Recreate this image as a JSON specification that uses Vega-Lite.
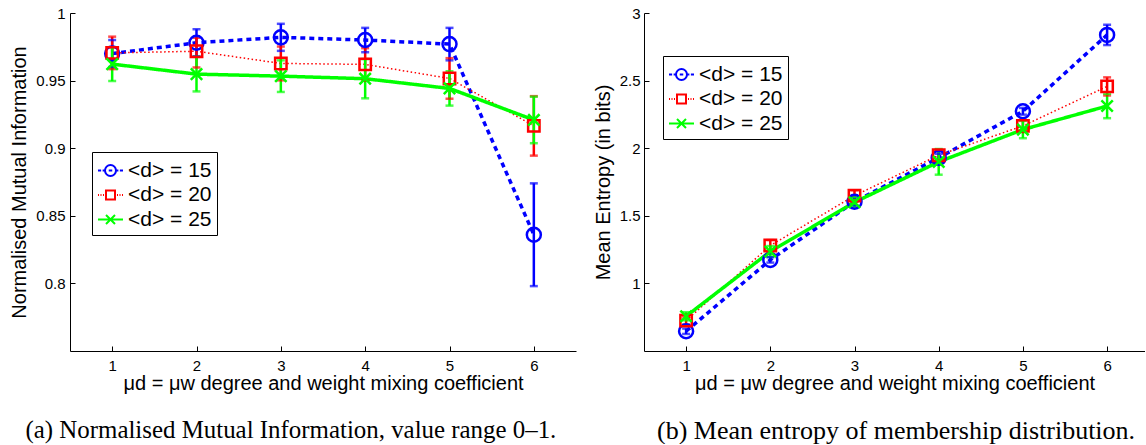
{
  "$schema": "https://vega.github.io/schema/vega-lite/v6.json",
  "background": "white",
  "padding": {"left": 9, "top": 6, "right": 0, "bottom": 0},
  "spacing": 17,
  "resolve": {"scale": {"color": "independent"}, "legend": {"color": "independent"}},
  "config": {
    "font": "Liberation Sans",
    "view": {"stroke": null},
    "axis": {
      "grid": false,
      "domainColor": "#000000",
      "domainWidth": 1,
      "tickColor": "#000000",
      "tickWidth": 1,
      "tickSize": -5,
      "labelColor": "#000000",
      "labelFont": "Liberation Sans",
      "labelFontSize": 15,
      "titleColor": "#000000",
      "titleFont": "Liberation Sans",
      "titleFontSize": 20,
      "titleFontWeight": "normal"
    },
    "legend": {
      "labelFont": "Liberation Sans",
      "labelFontSize": 21,
      "labelColor": "#000000"
    }
  },
  "datasets": {
    "a": [
      {"mu": 1, "d": "15", "v": 0.970, "lo": 0.960, "hi": 0.980},
      {"mu": 2, "d": "15", "v": 0.978, "lo": 0.968, "hi": 0.988},
      {"mu": 3, "d": "15", "v": 0.982, "lo": 0.972, "hi": 0.992},
      {"mu": 4, "d": "15", "v": 0.980, "lo": 0.971, "hi": 0.989},
      {"mu": 5, "d": "15", "v": 0.977, "lo": 0.965, "hi": 0.989},
      {"mu": 6, "d": "15", "v": 0.836, "lo": 0.798, "hi": 0.874},
      {"mu": 1, "d": "20", "v": 0.9705, "lo": 0.9585, "hi": 0.9825},
      {"mu": 2, "d": "20", "v": 0.9717, "lo": 0.9597, "hi": 0.9817},
      {"mu": 3, "d": "20", "v": 0.9627, "lo": 0.9502, "hi": 0.9752},
      {"mu": 4, "d": "20", "v": 0.962, "lo": 0.950, "hi": 0.974},
      {"mu": 5, "d": "20", "v": 0.9516, "lo": 0.9366, "hi": 0.9666},
      {"mu": 6, "d": "20", "v": 0.9165, "lo": 0.8945, "hi": 0.9385},
      {"mu": 1, "d": "25", "v": 0.9622, "lo": 0.9497, "hi": 0.9747},
      {"mu": 2, "d": "25", "v": 0.9548, "lo": 0.942, "hi": 0.9676},
      {"mu": 3, "d": "25", "v": 0.9533, "lo": 0.9416, "hi": 0.965},
      {"mu": 4, "d": "25", "v": 0.9514, "lo": 0.9369, "hi": 0.9659},
      {"mu": 5, "d": "25", "v": 0.9442, "lo": 0.9315, "hi": 0.9569},
      {"mu": 6, "d": "25", "v": 0.9209, "lo": 0.9037, "hi": 0.9381}
    ],
    "b": [
      {"mu": 1, "d": "15", "v": 0.646, "lo": 0.626, "hi": 0.666},
      {"mu": 2, "d": "15", "v": 1.174, "lo": 1.154, "hi": 1.194},
      {"mu": 3, "d": "15", "v": 1.604, "lo": 1.574, "hi": 1.634},
      {"mu": 4, "d": "15", "v": 1.929, "lo": 1.899, "hi": 1.959},
      {"mu": 5, "d": "15", "v": 2.273, "lo": 2.248, "hi": 2.298},
      {"mu": 6, "d": "15", "v": 2.838, "lo": 2.763, "hi": 2.913},
      {"mu": 1, "d": "20", "v": 0.725, "lo": 0.695, "hi": 0.755},
      {"mu": 2, "d": "20", "v": 1.28, "lo": 1.24, "hi": 1.32},
      {"mu": 3, "d": "20", "v": 1.649, "lo": 1.609, "hi": 1.689},
      {"mu": 4, "d": "20", "v": 1.948, "lo": 1.908, "hi": 1.988},
      {"mu": 5, "d": "20", "v": 2.165, "lo": 2.12, "hi": 2.21},
      {"mu": 6, "d": "20", "v": 2.457, "lo": 2.39, "hi": 2.524},
      {"mu": 1, "d": "25", "v": 0.757, "lo": 0.727, "hi": 0.787},
      {"mu": 2, "d": "25", "v": 1.236, "lo": 1.196, "hi": 1.276},
      {"mu": 3, "d": "25", "v": 1.60, "lo": 1.56, "hi": 1.64},
      {"mu": 4, "d": "25", "v": 1.899, "lo": 1.804, "hi": 1.994},
      {"mu": 5, "d": "25", "v": 2.138, "lo": 2.074, "hi": 2.202},
      {"mu": 6, "d": "25", "v": 2.312, "lo": 2.222, "hi": 2.402}
    ]
  },
  "hconcat": [
    {
      "width": 506,
      "height": 338,
      "data": {"name": "a"},
      "title": {"text": "(a)  Normalised Mutual Information, value range 0–1.", "orient": "bottom", "anchor": "middle", "frame": "bounds", "font": "Liberation Serif", "fontSize": 24.9, "fontWeight": "normal", "color": "#000000", "offset": 25, "dx": -2},
      "encoding": {
        "x": {"field": "mu", "type": "quantitative", "scale": {"domain": [0.5, 6.5], "nice": false, "zero": false},
          "axis": {"values": [1, 2, 3, 4, 5, 6], "title": "μd = μw degree and weight mixing coefficient", "labelPadding": 12, "titleBaseline": "alphabetic", "titleY": 38}}
      },
      "layer": [
        {
          "mark": {"type": "line"},
          "encoding": {
            "y": {"field": "v", "type": "quantitative", "scale": {"domain": [0.75, 1], "nice": false, "zero": false},
              "axis": {"values": [0.8, 0.85, 0.9, 0.95, 1], "format": "~g", "title": "Normalised Mutual Information", "labelPadding": 10, "titlePadding": 6}},
            "color": {"field": "d", "type": "nominal", "scale": {"domain": ["15", "20", "25"], "range": ["#0000ff", "#ff0000", "#00ff00"]},
              "legend": {"title": null, "orient": "none", "legendX": 22, "legendY": 139, "strokeColor": "#000000", "fillColor": "#ffffff", "padding": 5, "rowPadding": 0.5, "symbolSize": 625, "symbolStrokeWidth": 2, "symbolFillColor": "transparent", "labelOffset": 4, "labelExpr": "'<d> = ' + datum.label",
                "encode": {"symbols": {"enter": {"fill": {"value": "transparent"}, "fillOpacity": {"value": 0}}, "update": {"shape": {"signal": "datum.value == '15' ? 'M-1,0H-0.75M-0.63,0H-0.44M0.44,0H0.63M0.75,0H1M-0.14,0H0.14M0.44,0A0.44,0.44,0,1,1,-0.44,0A0.44,0.44,0,1,1,0.44,0' : datum.value == '20' ? 'M-1,0H-0.92M-0.8,0H-0.72M-0.6,0H-0.52M0.52,0H0.6M0.72,0H0.8M0.92,0H1M-0.36,-0.36H0.36V0.36H-0.36Z' : 'M-1,0H1M-0.36,-0.36L0.36,0.36M-0.36,0.36L0.36,-0.36'"}, "fill": {"value": "transparent"}, "fillOpacity": {"value": 0}}}}}},
            "strokeDash": {"field": "d", "type": "nominal", "scale": {"domain": ["15", "20", "25"], "range": [[5, 4], [1.5, 2.5], [1, 0]]}, "legend": null},
            "strokeWidth": {"field": "d", "type": "nominal", "scale": {"type": "ordinal", "domain": ["15", "20", "25"], "range": [3.5, 1.5, 3.5]}, "legend": null}
          }
        },
        {
          "mark": {"type": "rule", "strokeWidth": 2.5},
          "encoding": {
            "y": {"field": "lo", "type": "quantitative"},
            "y2": {"field": "hi"},
            "color": {"field": "d", "type": "nominal", "legend": null}
          }
        },
        {
          "mark": {"type": "tick", "orient": "horizontal", "size": 8, "thickness": 2.5},
          "encoding": {
            "y": {"field": "lo", "type": "quantitative"},
            "color": {"field": "d", "type": "nominal", "legend": null}
          }
        },
        {
          "mark": {"type": "tick", "orient": "horizontal", "size": 8, "thickness": 2.5},
          "encoding": {
            "y": {"field": "hi", "type": "quantitative"},
            "color": {"field": "d", "type": "nominal", "legend": null}
          }
        },
        {
          "mark": {"type": "point", "filled": false, "strokeWidth": 2.5, "opacity": 1},
          "encoding": {
            "y": {"field": "v", "type": "quantitative"},
            "color": {"field": "d", "type": "nominal", "legend": null},
            "shape": {"field": "d", "type": "nominal", "scale": {"domain": ["15", "20", "25"], "range": ["circle", "square", "M-1,-1L1,1M-1,1L1,-1"]}, "legend": null},
            "size": {"field": "d", "type": "nominal", "scale": {"type": "ordinal", "domain": ["15", "20", "25"], "range": [196, 130, 130]}, "legend": null}
          }
        }
      ]
    },
    {
      "width": 501,
      "height": 338,
      "data": {"name": "b"},
      "title": {"text": "(b)  Mean entropy of membership distribution.", "orient": "bottom", "anchor": "middle", "frame": "bounds", "font": "Liberation Serif", "fontSize": 26, "fontWeight": "normal", "color": "#000000", "offset": 25, "dx": 27},
      "encoding": {
        "x": {"field": "mu", "type": "quantitative", "scale": {"domain": [0.5, 6.45], "nice": false, "zero": false},
          "axis": {"values": [1, 2, 3, 4, 5, 6], "title": "μd = μw degree and weight mixing coefficient", "labelPadding": 12, "titleBaseline": "alphabetic", "titleY": 38}}
      },
      "layer": [
        {
          "mark": {"type": "line"},
          "encoding": {
            "y": {"field": "v", "type": "quantitative", "scale": {"domain": [0.5, 3], "nice": false, "zero": false},
              "axis": {"values": [1, 1.5, 2, 2.5, 3], "format": "~g", "title": "Mean Entropy (in bits)", "labelPadding": 9, "titlePadding": 6}},
            "color": {"field": "d", "type": "nominal", "scale": {"domain": ["15", "20", "25"], "range": ["#0000ff", "#ff0000", "#00ff00"]},
              "legend": {"title": null, "orient": "none", "legendX": 19, "legendY": 43, "strokeColor": "#000000", "fillColor": "#ffffff", "padding": 5, "rowPadding": 0.5, "symbolSize": 625, "symbolStrokeWidth": 2, "symbolFillColor": "transparent", "labelOffset": 4, "labelExpr": "'<d> = ' + datum.label",
                "encode": {"symbols": {"enter": {"fill": {"value": "transparent"}, "fillOpacity": {"value": 0}}, "update": {"shape": {"signal": "datum.value == '15' ? 'M-1,0H-0.75M-0.63,0H-0.44M0.44,0H0.63M0.75,0H1M-0.14,0H0.14M0.44,0A0.44,0.44,0,1,1,-0.44,0A0.44,0.44,0,1,1,0.44,0' : datum.value == '20' ? 'M-1,0H-0.92M-0.8,0H-0.72M-0.6,0H-0.52M0.52,0H0.6M0.72,0H0.8M0.92,0H1M-0.36,-0.36H0.36V0.36H-0.36Z' : 'M-1,0H1M-0.36,-0.36L0.36,0.36M-0.36,0.36L0.36,-0.36'"}, "fill": {"value": "transparent"}, "fillOpacity": {"value": 0}}}}}},
            "strokeDash": {"field": "d", "type": "nominal", "scale": {"domain": ["15", "20", "25"], "range": [[5, 4], [1.5, 2.5], [1, 0]]}, "legend": null},
            "strokeWidth": {"field": "d", "type": "nominal", "scale": {"type": "ordinal", "domain": ["15", "20", "25"], "range": [3.5, 1.5, 3.5]}, "legend": null}
          }
        },
        {
          "mark": {"type": "rule", "strokeWidth": 2.5},
          "encoding": {
            "y": {"field": "lo", "type": "quantitative"},
            "y2": {"field": "hi"},
            "color": {"field": "d", "type": "nominal", "legend": null}
          }
        },
        {
          "mark": {"type": "tick", "orient": "horizontal", "size": 8, "thickness": 2.5},
          "encoding": {
            "y": {"field": "lo", "type": "quantitative"},
            "color": {"field": "d", "type": "nominal", "legend": null}
          }
        },
        {
          "mark": {"type": "tick", "orient": "horizontal", "size": 8, "thickness": 2.5},
          "encoding": {
            "y": {"field": "hi", "type": "quantitative"},
            "color": {"field": "d", "type": "nominal", "legend": null}
          }
        },
        {
          "mark": {"type": "point", "filled": false, "strokeWidth": 2.5, "opacity": 1},
          "encoding": {
            "y": {"field": "v", "type": "quantitative"},
            "color": {"field": "d", "type": "nominal", "legend": null},
            "shape": {"field": "d", "type": "nominal", "scale": {"domain": ["15", "20", "25"], "range": ["circle", "square", "M-1,-1L1,1M-1,1L1,-1"]}, "legend": null},
            "size": {"field": "d", "type": "nominal", "scale": {"type": "ordinal", "domain": ["15", "20", "25"], "range": [196, 130, 130]}, "legend": null}
          }
        }
      ]
    }
  ]
}
